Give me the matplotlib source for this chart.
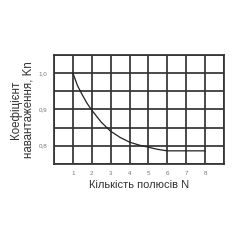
import matplotlib
matplotlib.use("Agg")
import matplotlib.pyplot as plt
from matplotlib.ticker import FixedLocator

plt.rcParams['font.family'] = ['Liberation Sans', 'DejaVu Sans']

poles = [1, 1.25, 1.5, 1.75, 2, 2.5, 3, 3.5, 4, 4.5, 5, 5.5, 6, 7, 8]
kn = [1.0, 0.965, 0.94, 0.917, 0.898, 0.865, 0.84, 0.823, 0.81, 0.802, 0.796, 0.79, 0.786, 0.786, 0.786]

x_ticks = [0, 1, 2, 3, 4, 5, 6, 7, 8, 9]
x_labels = ['', '1', '2', '3', '4', '5', '6', '7', '8', '']
y_ticks = [0.75, 0.80, 0.85, 0.90, 0.95, 1.00, 1.05]
y_labels = ['', '0,8', '', '0,9', '', '1,0', '']

fig = plt.figure(figsize=(2.4, 2.4), dpi=100)
ax = fig.add_axes([0.225, 0.317, 0.708, 0.454])
ax.plot(poles, kn, color='#222222', lw=0.9, zorder=3)
ax.set_xlim(0, 9)
ax.set_ylim(0.75, 1.05)
ax.xaxis.set_major_locator(FixedLocator(x_ticks))
ax.yaxis.set_major_locator(FixedLocator(y_ticks))
ax.set_xticklabels(x_labels)
ax.set_yticklabels(y_labels)
ax.grid(True, color='#333333', lw=1.25)
for s in ax.spines.values():
    s.set_color('#333333')
    s.set_linewidth(1.25)
ax.tick_params(length=0, labelsize=4.5, labelcolor='#777777', pad=5)
ax.set_xlabel('Кількість полюсів N', fontsize=8, color='#333333', labelpad=3)
ax.set_ylabel('Коефіцієнт\nнавантаження, Kn', fontsize=8.3, color='#333333', labelpad=3, linespacing=1.0)
fig.savefig('out.png', dpi=100, facecolor='white')
